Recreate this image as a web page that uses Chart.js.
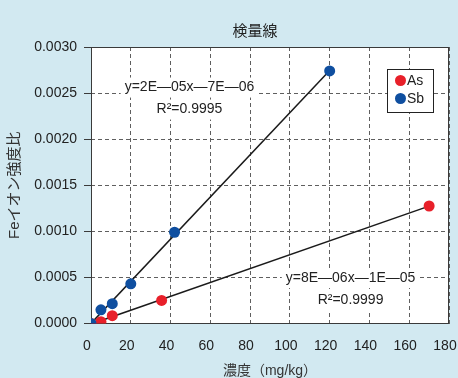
<!DOCTYPE html>
<html>
<head>
<meta charset="utf-8">
<script src="https://cdn.jsdelivr.net/npm/chart.js@4/dist/chart.umd.min.js"></script>
<style>
  html, body { margin: 0; padding: 0; background: #d2e9f1; }
  #c { display: block; }
</style>
</head>
<body>
<canvas id="c" width="458" height="378"></canvas>
<script>
// Calibration data: concentration (mg/kg) vs Fe ion intensity ratio
const asConc  = [0, 5, 10.7, 35.5, 170];
const asRatio = [0, 0.00002, 0.000085, 0.00025, 0.001275];
const sbConc  = [0, 5, 10.7, 20, 42, 120];
const sbRatio = [0, 0.000148, 0.000215, 0.00043, 0.00099, 0.00274];

const xTicks = [0, 20, 40, 60, 80, 100, 120, 140, 160, 180];
const yTicks = [0, 0.0005, 0.0010, 0.0015, 0.0020, 0.0025, 0.0030];

const seriesNames = ['As', 'Sb'];
const seriesColors = ['#e8202a', '#0f4fa0'];
const sbEquation = ['y=2E—05x—7E—06', 'R²=0.9995'];
const asEquation = ['y=8E—06x—1E—05', 'R²=0.9999'];

const LATIN = '"Liberation Sans", Arial, "Noto Sans CJK JP", sans-serif';
const CJK = '"Liberation Sans", "Noto Sans CJK JP", sans-serif';

// Least-squares line through a series, spanning its x range
function trend(xs, ys) {
  const n = xs.length;
  const mx = xs.reduce((a, b) => a + b, 0) / n;
  const my = ys.reduce((a, b) => a + b, 0) / n;
  let sxy = 0, sxx = 0;
  for (let i = 0; i < n; i++) {
    sxy += (xs[i] - mx) * (ys[i] - my);
    sxx += (xs[i] - mx) * (xs[i] - mx);
  }
  const k = sxy / sxx, b = my - k * mx;
  const x0 = Math.min(...xs), x1 = Math.max(...xs);
  return [{ x: x0, y: k * x0 + b }, { x: x1, y: k * x1 + b }];
}

const pts = (xs, ys) => xs.map((x, i) => ({ x, y: ys[i] }));

// Page background, white plot area and plot frame
const framePlugin = {
  id: 'frame',
  beforeDraw(chart) {
    const { ctx, chartArea: a } = chart;
    ctx.save();
    ctx.fillStyle = '#d2e9f1';
    ctx.fillRect(0, 0, chart.width, chart.height);
    ctx.fillStyle = '#ffffff';
    ctx.fillRect(a.left, a.top, a.right - a.left, a.bottom - a.top);
    ctx.restore();
  },
  beforeDatasetsDraw(chart) {
    const { ctx, chartArea: a } = chart;
    ctx.save();
    ctx.strokeStyle = '#3a3a3a';
    ctx.lineWidth = 1;
    ctx.strokeRect(Math.round(a.left) + 0.5, Math.round(a.top) + 0.5,
                   Math.round(a.right - a.left) - 1, Math.round(a.bottom - a.top) - 1);

    // Regression equations on white backing boxes
    const xs = chart.scales.x, ys = chart.scales.y;
    ctx.font = '14px ' + LATIN;
    ctx.textAlign = 'center';
    ctx.textBaseline = 'middle';
    const drawEq = (lines, cx, cy) => {
      lines.forEach((t, i) => {
        const y = cy + i * 22;
        const w = ctx.measureText(t).width;
        ctx.fillStyle = '#ffffff';
        ctx.fillRect(cx - w / 2 - 4, y - 10, w + 8, 20);
        ctx.fillStyle = '#222222';
        ctx.fillText(t, cx, y);
      });
    };
    drawEq(sbEquation, xs.getPixelForValue(49.5), ys.getPixelForValue(0.00256));
    drawEq(asEquation, xs.getPixelForValue(130.5), ys.getPixelForValue(0.000493));

    // Chart title
    ctx.font = '15px "Noto Sans CJK JP", sans-serif';
    ctx.fillStyle = '#222222';
    ctx.fillText('検量線', 255, 30);
    ctx.restore();
  },
  afterDatasetsDraw(chart) {
    // Boxed legend in the upper right of the plot
    const { ctx } = chart;
    const a = chart.chartArea;
    const bx = a.right - 62, by = a.top + 22, bw = 46, bh = 43;
    ctx.save();
    ctx.fillStyle = '#ffffff';
    ctx.fillRect(bx, by, bw, bh);
    ctx.strokeStyle = '#222222';
    ctx.lineWidth = 1;
    ctx.strokeRect(Math.round(bx) + 0.5, Math.round(by) + 0.5, bw, bh);
    ctx.font = '14px ' + LATIN;
    ctx.textAlign = 'left';
    ctx.textBaseline = 'middle';
    seriesNames.forEach((name, i) => {
      const cy = by + 11.5 + i * 18;
      ctx.fillStyle = seriesColors[i];
      ctx.beginPath();
      ctx.arc(bx + 13.5, cy, 5.5, 0, Math.PI * 2);
      ctx.fill();
      ctx.fillStyle = '#222222';
      ctx.fillText(name, bx + 20, cy + 0.5);
    });
    ctx.restore();
  }
};

new Chart(document.getElementById('c'), {
  type: 'scatter',
  data: {
    datasets: [
      { label: 'Sb', data: pts(sbConc, sbRatio), order: 0,
        backgroundColor: seriesColors[1], borderColor: seriesColors[1],
        pointRadius: 5.5, borderWidth: 0, pointBorderWidth: 0 },
      { label: 'As', data: pts(asConc, asRatio), order: 1,
        backgroundColor: seriesColors[0], borderColor: seriesColors[0],
        pointRadius: 5.5, borderWidth: 0, pointBorderWidth: 0 },
      { type: 'line', label: 'Sb fit', data: trend(sbConc, sbRatio), order: 2,
        borderColor: '#1a1a1a', borderWidth: 1.5, pointRadius: 0, fill: false },
      { type: 'line', label: 'As fit', data: trend(asConc, asRatio), order: 3,
        borderColor: '#1a1a1a', borderWidth: 1.5, pointRadius: 0, fill: false }
    ]
  },
  options: {
    responsive: false,
    animation: false,
    devicePixelRatio: 1,
    layout: { padding: { left: 0, right: 9, top: 47, bottom: 0 } },
    plugins: { legend: { display: false }, tooltip: { enabled: false }, title: { display: false } },
    scales: {
      x: {
        type: 'linear', min: 0, max: 180,
        afterBuildTicks: s => { s.ticks = xTicks.map(v => ({ value: v })); },
        afterFit: s => { s.height = 54.5; s.paddingLeft = 0; s.paddingRight = 0; },
        grid: { color: '#5f5f5f', lineWidth: 1, drawTicks: false, borderDash: [4, 3] },
        border: { display: false, dash: [4, 3] },
        ticks: { padding: 14, labelOffset: -4, color: '#222222', font: { family: LATIN, size: 14 },
                 maxRotation: 0, autoSkip: false },
        title: { display: true, text: '濃度（mg/kg）', color: '#333333',
                 font: { family: CJK, size: 14, lineHeight: 1 }, padding: { top: 0, bottom: 0 } }
      },
      y: {
        type: 'linear', min: 0, max: 0.003,
        afterBuildTicks: s => { s.ticks = yTicks.map(v => ({ value: v })); },
        afterFit: s => { s.width = 91; s.paddingTop = 0; s.paddingBottom = 0; },
        grid: { color: '#5f5f5f', lineWidth: 1, drawTicks: true, tickLength: 7,
                tickColor: '#3a3a3a', tickBorderDash: [], borderDash: [4, 3] },
        border: { display: false, dash: [4, 3] },
        ticks: { padding: 7, color: '#222222', font: { family: LATIN, size: 14 },
                 callback: v => Number(v).toFixed(4) },
        title: { display: true, text: 'Feイオン強度比', color: '#333333',
                 font: { family: CJK, size: 15, lineHeight: 1.2 }, padding: { top: 6, bottom: 0 } }
      }
    }
  },
  plugins: [framePlugin]
});
</script>
</body>
</html>
